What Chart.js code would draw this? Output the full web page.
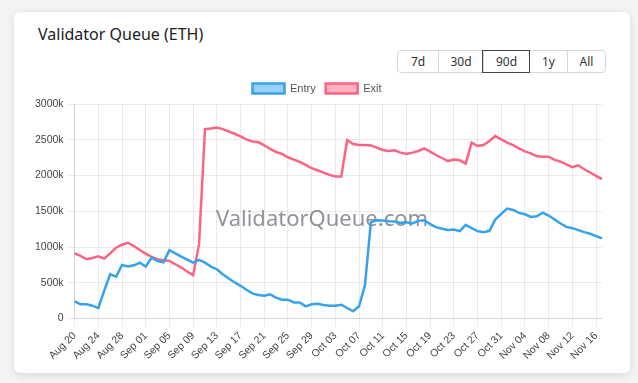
<!DOCTYPE html>
<html>
<head>
<meta charset="utf-8">
<script src="https://cdn.jsdelivr.net/npm/chart.js@4.4.1/dist/chart.umd.min.js"></script>
<style>
  html, body { margin: 0; padding: 0; }
  body { width: 638px; height: 383px; background: #f3f4f6; position: relative; overflow: hidden; font-family: "Noto Sans", Arial, sans-serif; }
  .card { position: absolute; left: 14px; top: 12px; width: 616px; height: 361px; background: #fff; border-radius: 6px; box-shadow: 0 2px 8px rgba(0,0,0,0.12); }
  .title { position: absolute; left: 24px; top: 11px; font-size: 16px; color: #222; }
  .range { position: absolute; left: 383px; top: 38px; display: flex; border: 1px solid #d8d8d8; border-radius: 4px; }
  .range span { font-size: 12px; color: #333; height: 21px; line-height: 21px; text-align: center; border-left: 1px solid #d8d8d8; }
  .range span:first-child { border-left: none; }
  .range span.on { outline: 1.5px solid #444; position: relative; }
  .wrap { position: absolute; left: 0; top: 61px; width: 616px; height: 292px; }
</style>
</head>
<body>
<div class="card">
  <div class="title">Validator Queue (ETH)</div>
  <div class="range">
    <span style="width:40px">7d</span>
    <span style="width:44px">30d</span>
    <span class="on" style="width:45px">90d</span>
    <span style="width:37px">1y</span>
    <span style="width:37px">All</span>
  </div>
  <div class="wrap"><canvas id="chartCanvas"></canvas></div>
</div>
<script>
// daily labels, Aug 20 - Nov 17
const dates = [
  'Aug 20','Aug 21','Aug 22','Aug 23','Aug 24','Aug 25','Aug 26','Aug 27','Aug 28','Aug 29','Aug 30','Aug 31',
  'Sep 01','Sep 02','Sep 03','Sep 04','Sep 05','Sep 06','Sep 07','Sep 08','Sep 09','Sep 10','Sep 11','Sep 12',
  'Sep 13','Sep 14','Sep 15','Sep 16','Sep 17','Sep 18','Sep 19','Sep 20','Sep 21','Sep 22','Sep 23','Sep 24',
  'Sep 25','Sep 26','Sep 27','Sep 28','Sep 29','Sep 30',
  'Oct 01','Oct 02','Oct 03','Oct 04','Oct 05','Oct 06','Oct 07','Oct 08','Oct 09','Oct 10','Oct 11','Oct 12',
  'Oct 13','Oct 14','Oct 15','Oct 16','Oct 17','Oct 18','Oct 19','Oct 20','Oct 21','Oct 22','Oct 23','Oct 24',
  'Oct 25','Oct 26','Oct 27','Oct 28','Oct 29','Oct 30','Oct 31',
  'Nov 01','Nov 02','Nov 03','Nov 04','Nov 05','Nov 06','Nov 07','Nov 08','Nov 09','Nov 10','Nov 11','Nov 12',
  'Nov 13','Nov 14','Nov 15','Nov 16','Nov 17'
];

// queue sizes in thousands of ETH
const entryK = [
  240, 200, 200, 180, 145, 390, 620, 585, 750, 728,
  745, 780, 728, 852, 805, 787, 955, 912, 866, 824,
  782, 820, 782, 727, 690, 620, 560, 505, 458, 403,
  352, 330, 320, 338, 292, 264, 264, 226, 226, 171,
  199, 208, 190, 180, 180, 194, 148, 102, 171, 468,
  1347, 1375, 1370, 1361, 1357, 1338, 1347, 1329, 1366, 1375,
  1320, 1278, 1255, 1238, 1245, 1222, 1310, 1264, 1222, 1208,
  1227, 1385, 1463, 1537, 1518, 1477, 1458, 1421, 1431, 1482,
  1440, 1385, 1329, 1282, 1264, 1236, 1208, 1185, 1153, 1121
];
const exitK = [
  912, 875, 829, 847, 870, 838, 912, 991, 1032, 1060,
  1014, 958, 907, 861, 829, 815, 805, 759, 713, 658,
  607, 1040, 2650, 2657, 2671, 2649, 2616, 2584, 2546, 2505,
  2477, 2468, 2421, 2371, 2329, 2301, 2255, 2222, 2190, 2148,
  2102, 2074, 2040, 2009, 1986, 1986, 2496, 2440, 2426, 2426,
  2421, 2389, 2357, 2343, 2352, 2320, 2301, 2320, 2343, 2380,
  2334, 2287, 2245, 2202, 2225, 2213, 2167, 2459, 2412, 2426,
  2482, 2551, 2505, 2459, 2426, 2380, 2338, 2310, 2268, 2264,
  2264, 2218, 2194, 2157, 2116, 2143, 2088, 2042, 1996, 1949
];

const yMax = 3000;
const yStep = 500;
const labelEvery = 4;

Chart.defaults.font.family = 'Arial, "Liberation Sans", sans-serif';
Chart.defaults.font.size = 10.5;
Chart.defaults.color = '#555';

// watermark in the middle of the plot
const watermark = {
  id: 'watermark',
  beforeDatasetsDraw(chart) {
    const { ctx, chartArea } = chart;
    ctx.save();
    ctx.font = '22px "Noto Sans", sans-serif';
    ctx.fillStyle = 'rgba(110,110,120,0.75)';
    ctx.textAlign = 'center';
    ctx.textBaseline = 'middle';
    ctx.fillText('ValidatorQueue.com', chart.width / 2, (chartArea.top + chartArea.bottom) / 2 + 8);
    ctx.restore();
  }
};

new Chart(document.getElementById('chartCanvas'), {
  type: 'line',
  data: {
    labels: dates,
    datasets: [
      {
        label: 'Entry',
        data: entryK,
        borderColor: '#36A2EB',
        backgroundColor: 'rgba(54,162,235,0.5)',
        borderWidth: 2.5,
        pointRadius: 0,
        tension: 0
      },
      {
        label: 'Exit',
        data: exitK,
        borderColor: '#FF6384',
        backgroundColor: 'rgba(255,99,132,0.5)',
        borderWidth: 2.5,
        pointRadius: 0,
        tension: 0
      }
    ]
  },
  options: {
    responsive: true,
    maintainAspectRatio: false,
    animation: false,
    layout: { padding: { left: 18, right: 28, top: 0, bottom: 0 } },
    plugins: {
      legend: {
        position: 'top',
        labels: { boxWidth: 32, boxHeight: 10, color: '#555', font: { size: 11 } }
      },
      tooltip: { enabled: false }
    },
    scales: {
      x: {
        grid: { color: 'rgba(0,0,0,0.08)' },
        ticks: {
          autoSkip: false,
          maxRotation: 45,
          minRotation: 45,
          color: '#444',
          callback: function (value, index) {
            return index % labelEvery === 0 ? this.getLabelForValue(value) : null;
          }
        }
      },
      y: {
        min: 0,
        max: yMax,
        grid: { color: 'rgba(0,0,0,0.08)' },
        ticks: {
          stepSize: yStep,
          color: '#444',
          callback: (v) => v === 0 ? '0' : v + 'k'
        }
      }
    }
  },
  plugins: [watermark]
});
</script>
</body>
</html>
